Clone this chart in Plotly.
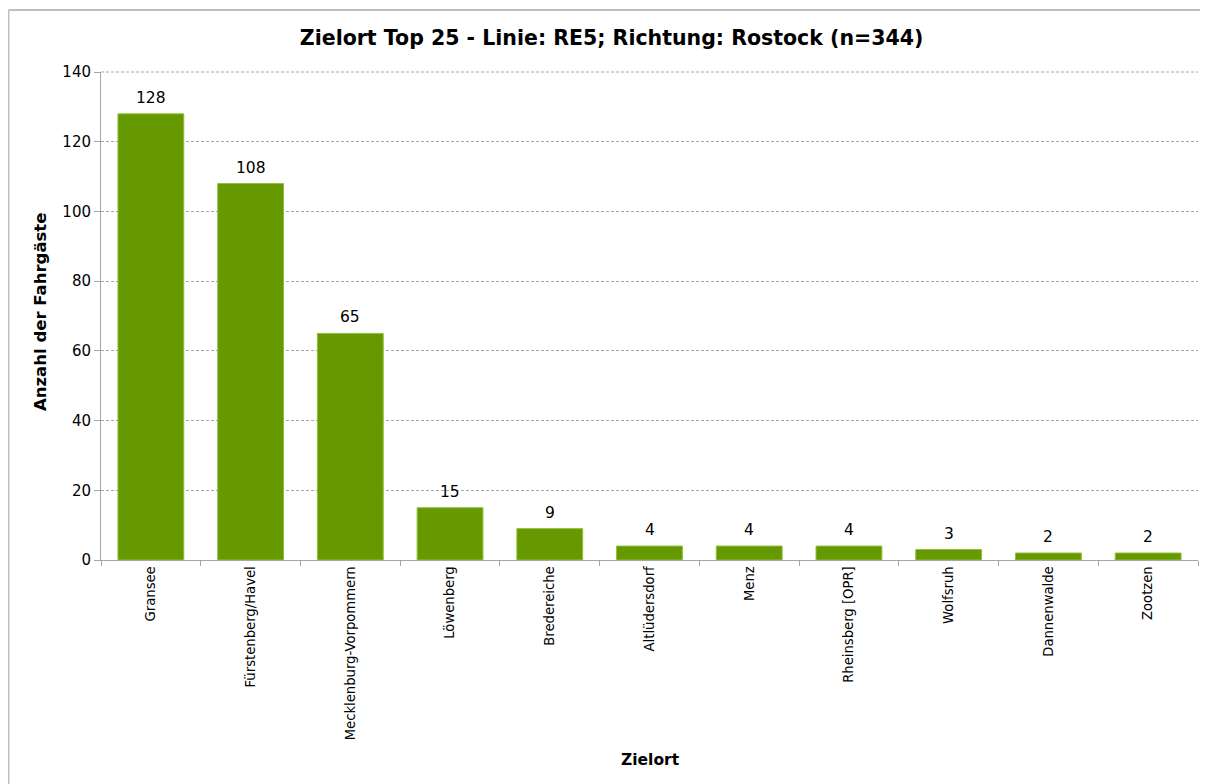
import plotly.graph_objects as go

categories = ["Gransee", "Fürstenberg/Havel", "Mecklenburg-Vorpommern", "Löwenberg",
              "Bredereiche", "Altlüdersdorf", "Menz", "Rheinsberg [OPR]", "Wolfsruh",
              "Dannenwalde", "Zootzen"]
values = [128, 108, 65, 15, 9, 4, 4, 4, 3, 2, 2]
y_ticks = [0, 20, 40, 60, 80, 100, 120, 140]

FONT = "DejaVu Sans"
GRAY = "#a6a6a6"

# page body has an 8px margin: figure sized to fill the rest of the 1208x784 window
W, H = 1200, 776
L, R, T, B = 93, 10, 64, 224
pw, ph = W - L - R, H - T - B


def px_x(fx):
    return (fx - L) / pw


def px_y(fy):
    return (H - B - fy) / ph


fig = go.Figure()
fig.add_trace(go.Bar(
    x=categories, y=values,
    marker=dict(color="#669900", line=dict(color="#8fbf3a", width=1)),
    width=0.66,
    hoverinfo="x+y",
))

for c, v in zip(categories, values):
    fig.add_annotation(x=c, y=v, xref="x", yref="y", text=str(v),
                       xanchor="center", yanchor="bottom", yshift=5,
                       showarrow=False,
                       font=dict(family=FONT, size=15.5, color="#000000"))

fig.update_layout(
    width=W, height=H,
    margin=dict(l=L, r=R, t=T, b=B),
    paper_bgcolor="white", plot_bgcolor="white",
    font=dict(family=FONT, color="#000000"),
    showlegend=False,
    title=dict(text="<b>Zielort Top 25 - Linie: RE5; Richtung: Rostock (n=344)</b>",
               x=0.503, xanchor="center", y=1 - 30 / H, yanchor="middle",
               font=dict(family=FONT, size=20.5, color="#000000")),
    xaxis=dict(
        type="category", tickangle=-90,
        tickfont=dict(family=FONT, size=13.2),
        showline=True, linecolor=GRAY, linewidth=1,
        ticks="outside", ticklen=5, tickcolor=GRAY, tickson="boundaries",
        showgrid=False,
    ),
    yaxis=dict(
        range=[0, 140], tickvals=y_ticks,
        tickfont=dict(family=FONT, size=15),
        showline=True, linecolor=GRAY, linewidth=1,
        ticks="outside", ticklen=6, tickcolor=GRAY,
        showgrid=True, gridcolor="#a6a6a6", griddash="3px,2px", gridwidth=1,
        zeroline=False,
    ),
)

# dashed gridline at the top of the value axis (plotly omits it on the frame edge)
fig.add_shape(type="line", xref="paper", yref="paper", x0=0, x1=1, y0=1, y1=1,
              line=dict(color="#a6a6a6", width=1, dash="3px,2px"))

fig.add_annotation(text="<b>Zielort</b>", xref="paper", yref="paper",
                   x=px_x(642), y=px_y(752), xanchor="center", yanchor="middle",
                   showarrow=False, font=dict(family=FONT, size=15.5, color="#000000"))
fig.add_annotation(text="<b>Anzahl der Fahrgäste</b>", xref="paper", yref="paper",
                   x=px_x(32), y=px_y(304), xanchor="center", yanchor="middle",
                   textangle=-90, showarrow=False,
                   font=dict(family=FONT, size=16.5, color="#000000"))

fig.add_shape(type="line", xref="paper", yref="paper",
              x0=px_x(0.5), x1=px_x(W + 5), y0=px_y(2), y1=px_y(2),
              line=dict(color="#bfbfbf", width=2))
fig.add_shape(type="line", xref="paper", yref="paper",
              x0=px_x(0.5), x1=px_x(0.5), y0=px_y(2), y1=px_y(H + 5),
              line=dict(color="#bfbfbf", width=2))

fig.write_html("out.html")
